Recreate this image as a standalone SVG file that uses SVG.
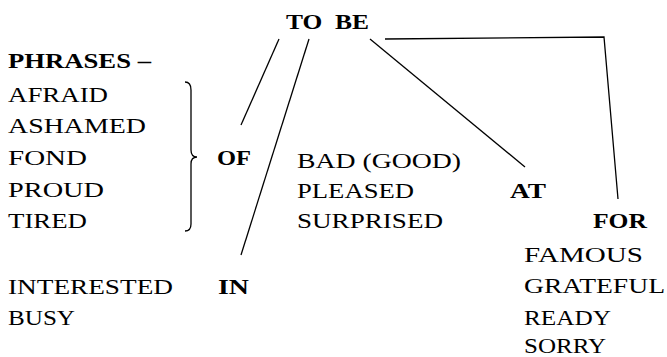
<svg xmlns="http://www.w3.org/2000/svg" width="667" height="357" viewBox="0 0 667 357">
<style>
text{font-family:"Liberation Serif","DejaVu Serif",serif;font-size:20.5px;fill:#000}
.b{font-weight:bold}
.ln{stroke:#000;stroke-width:1.3;fill:none}
</style>
<rect width="667" height="357" fill="#fff"/>
<g id="tobe"><text class="b" x="286" y="29" textLength="83" lengthAdjust="spacingAndGlyphs" xml:space="preserve">TO  BE</text></g>
<g id="phrases"><text class="b" x="8" y="68" textLength="143" lengthAdjust="spacingAndGlyphs">PHRASES –</text></g>
<g id="of-words">
<text x="8" y="102" textLength="100" lengthAdjust="spacingAndGlyphs">AFRAID</text>
<text x="8" y="133" textLength="138" lengthAdjust="spacingAndGlyphs">ASHAMED</text>
<text x="8" y="165" textLength="79" lengthAdjust="spacingAndGlyphs">FOND</text>
<text x="8" y="197" textLength="96" lengthAdjust="spacingAndGlyphs">PROUD</text>
<text x="8" y="228" textLength="79" lengthAdjust="spacingAndGlyphs">TIRED</text>
</g>
<g id="brace"><path class="ln" d="M185,82 Q191,82 191,90 L191,150 Q191,157 197,157 Q191,157 191,164 L191,224 Q191,231 185,231"/></g>
<g id="of"><text class="b" x="217" y="165" textLength="34" lengthAdjust="spacingAndGlyphs">OF</text></g>
<g id="at-words">
<text x="297" y="168" textLength="164" lengthAdjust="spacingAndGlyphs">BAD (GOOD)</text>
<text x="297" y="198" textLength="117" lengthAdjust="spacingAndGlyphs">PLEASED</text>
<text x="297" y="228" textLength="146" lengthAdjust="spacingAndGlyphs">SURPRISED</text>
</g>
<g id="at"><text class="b" x="510" y="198" textLength="36" lengthAdjust="spacingAndGlyphs">AT</text></g>
<g id="for"><text class="b" x="593" y="228" textLength="54" lengthAdjust="spacingAndGlyphs">FOR</text></g>
<g id="for-words">
<text x="524" y="262" textLength="119" lengthAdjust="spacingAndGlyphs">FAMOUS</text>
<text x="524" y="293" textLength="141" lengthAdjust="spacingAndGlyphs">GRATEFUL</text>
<text x="524" y="325" textLength="87" lengthAdjust="spacingAndGlyphs">READY</text>
<text x="524" y="353" textLength="82" lengthAdjust="spacingAndGlyphs">SORRY</text>
</g>
<g id="in"><text class="b" x="218" y="294" textLength="31" lengthAdjust="spacingAndGlyphs">IN</text></g>
<g id="in-words">
<text x="8" y="294" textLength="165" lengthAdjust="spacingAndGlyphs">INTERESTED</text>
<text x="8" y="325" textLength="67" lengthAdjust="spacingAndGlyphs">BUSY</text>
</g>
<g id="connectors">
<line class="ln" x1="279" y1="39" x2="241" y2="125"/>
<line class="ln" x1="309" y1="39" x2="241" y2="255"/>
<line class="ln" x1="370" y1="39" x2="525" y2="167"/>
<polyline class="ln" points="385,39 604,37 618,199"/>
</g>
</svg>
